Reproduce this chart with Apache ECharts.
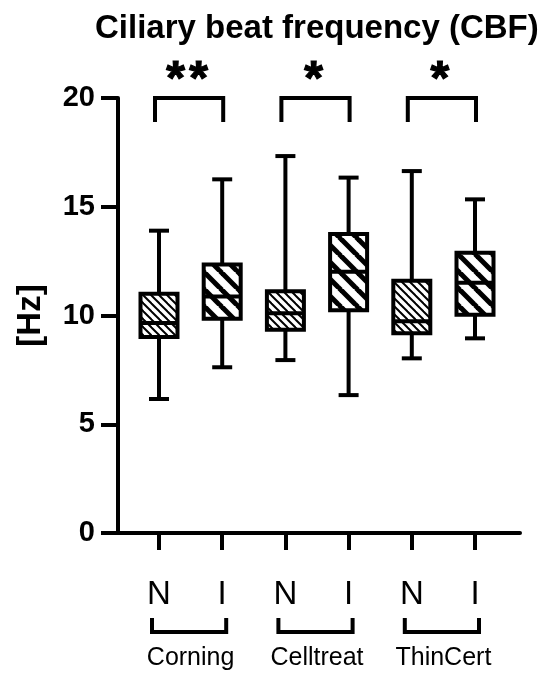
<!DOCTYPE html>
<html><head><meta charset="utf-8">
<script src="https://cdn.jsdelivr.net/npm/echarts@6/dist/echarts.min.js"></script>
<style>html,body{margin:0;padding:0;background:#fff}#c{width:550px;height:688px}</style>
</head><body><div id="c"></div>
<script>
// ---- data ----
const categories = ['N', 'I', 'N', 'I', 'N', 'I'];
const groupNames = ['Corning', 'Celltreat', 'ThinCert'];
const whiskerMin = [6.16, 7.62, 7.95, 6.34, 8.03, 8.95];
const q1 = [9.01, 9.85, 9.35, 10.24, 9.18, 10.04];
const median = [9.65, 10.87, 10.1, 12.01, 9.73, 11.51];
const q3 = [11.0, 12.34, 11.11, 13.75, 11.6, 12.89];
const whiskerMax = [13.9, 16.26, 17.33, 16.34, 16.64, 15.34];
const significance = ['**', '*', '*'];
const yTicks = [0, 5, 10, 15, 20];

const FONT = 'Liberation Sans, Arial, sans-serif';

function hatch(step, lw) {
  const c = document.createElement('canvas');
  c.width = step; c.height = step;
  const g = c.getContext('2d');
  g.fillStyle = '#fff'; g.fillRect(0, 0, step, step);
  g.strokeStyle = '#000'; g.lineWidth = lw;
  for (const k of [-step, 0, step]) {
    g.beginPath(); g.moveTo(k - 1, -1); g.lineTo(k + step + 1, step + 1); g.stroke();
  }
  return { image: c, repeat: 'repeat' };
}
const thinPat = hatch(8, 2);
const thickPat = hatch(17, 5);

const boxData = categories.map((c, i) => [i, whiskerMin[i], q1[i], median[i], q3[i], whiskerMax[i]]);
const sigData = significance.map((s, k) => [2 * k, 2 * k + 1, s]);
const groupData = groupNames.map((n, k) => [2 * k, 2 * k + 1, n]);

const LW = 4;
const line = (x1, y1, x2, y2) => ({ type: 'line', shape: { x1, y1, x2, y2 }, style: { stroke: '#000', lineWidth: LW } });

const chart = echarts.init(document.getElementById('c'), null, { renderer: 'canvas' });
chart.setOption({
  animation: false,
  backgroundColor: '#fff',
  textStyle: { fontFamily: FONT },
  title: {
    text: 'Ciliary beat frequency (CBF)',
    left: 90, top: 7,
    textStyle: { fontFamily: FONT, fontSize: 33, fontWeight: 'bold', color: '#000' }
  },
  grid: [
    { left: 127.4, right: 43.4, top: 98, bottom: 155 },
    { left: 118, right: 30, top: 98, bottom: 155 }
  ],
  xAxis: [
    {
      type: 'category', gridIndex: 0, data: categories, boundaryGap: true,
      axisLine: { show: false },
      axisTick: { show: true, alignWithLabel: true, length: 17, lineStyle: { color: '#000', width: LW } },
      axisLabel: { margin: 45, fontSize: 33, color: '#000', fontFamily: FONT },
      splitLine: { show: false }
    },
    {
      type: 'value', gridIndex: 1, min: 0, max: 1,
      axisLine: { show: true, lineStyle: { color: '#000', width: LW } },
      axisTick: { show: false }, axisLabel: { show: false }, splitLine: { show: false }
    }
  ],
  yAxis: [
    {
      type: 'value', gridIndex: 0, min: yTicks[0], max: yTicks[yTicks.length - 1],
      interval: yTicks[1] - yTicks[0], offset: 9.4,
      name: '[Hz]', nameLocation: 'middle', nameGap: 71, nameRotate: 90,
      nameTextStyle: { fontSize: 33, fontWeight: 'bold', color: '#000', fontFamily: FONT },
      axisLine: { show: true, lineStyle: { color: '#000', width: LW } },
      axisTick: { show: true, length: 17, lineStyle: { color: '#000', width: LW } },
      axisLabel: { margin: 23, fontSize: 29, fontWeight: 'bold', color: '#000', fontFamily: FONT },
      splitLine: { show: false }
    },
    { type: 'value', gridIndex: 1, show: false, min: 0, max: 1 }
  ],
  series: [
    {
      type: 'custom', xAxisIndex: 0, yAxisIndex: 0, clip: false,
      data: boxData,
      encode: { x: 0, y: [1, 2, 3, 4, 5] },
      renderItem: function (params, api) {
        const i = api.value(0);
        const x = api.coord([i, 0])[0];
        const yMin = api.coord([i, api.value(1)])[1];
        const yQ1 = api.coord([i, api.value(2)])[1];
        const yMed = api.coord([i, api.value(3)])[1];
        const yQ3 = api.coord([i, api.value(4)])[1];
        const yMax = api.coord([i, api.value(5)])[1];
        const hw = 18.5, cw = 10;
        return {
          type: 'group', children: [
            line(x, yMax, x, yQ3),
            line(x, yQ1, x, yMin),
            line(x - cw, yMax, x + cw, yMax),
            line(x - cw, yMin, x + cw, yMin),
            { type: 'rect', shape: { x: x - hw, y: yQ3, width: 2 * hw, height: yQ1 - yQ3 },
              style: { fill: i % 2 === 0 ? thinPat : thickPat, stroke: '#000', lineWidth: LW } },
            line(x - hw, yMed, x + hw, yMed)
          ]
        };
      }
    },
    {
      type: 'custom', xAxisIndex: 0, yAxisIndex: 0, clip: false,
      data: sigData,
      encode: { x: [0, 1] },
      renderItem: function (params, api) {
        const top = api.coord([0, yTicks[yTicks.length - 1]])[1];
        const xl = api.coord([api.value(0), 0])[0] - 4;
        const xr = api.coord([api.value(1), 0])[0] + 1;
        const stars = significance[params.dataIndex].split('');
        const cx = (xl + xr) / 2 - 2;
        const children = [
          { type: 'polyline', shape: { points: [[xl, top + 24], [xl, top], [xr, top], [xr, top + 24]] },
            style: { stroke: '#000', lineWidth: LW, fill: null, lineJoin: 'miter' } }
        ];
        stars.forEach((s, j) => {
          children.push({ type: 'text', x: cx + (j - (stars.length - 1) / 2) * 23, y: top - 17,
            style: { text: s, fill: '#000', stroke: '#000', lineWidth: 1.2, font: 'bold 48px ' + FONT, align: 'center', verticalAlign: 'middle' } });
        });
        return { type: 'group', children };
      }
    },
    {
      type: 'custom', xAxisIndex: 0, yAxisIndex: 0, clip: false,
      data: groupData,
      encode: { x: [0, 1] },
      renderItem: function (params, api) {
        const base = api.coord([0, yTicks[0]])[1];
        const x0 = api.coord([api.value(0), 0])[0];
        const x1 = api.coord([api.value(1), 0])[0];
        const xl = x0 - 7, xr = x1 + 4;
        return {
          type: 'group', children: [
            { type: 'polyline', shape: { points: [[xl, base + 85], [xl, base + 99], [xr, base + 99], [xr, base + 85]] },
              style: { stroke: '#000', lineWidth: LW, fill: null, lineJoin: 'miter' } },
            { type: 'text', x: (x0 + x1) / 2, y: base + 125,
              style: { text: groupNames[params.dataIndex], fill: '#000', font: '25px ' + FONT, align: 'center', verticalAlign: 'middle' } }
          ]
        };
      }
    }
  ]
});
</script>
</body></html>
